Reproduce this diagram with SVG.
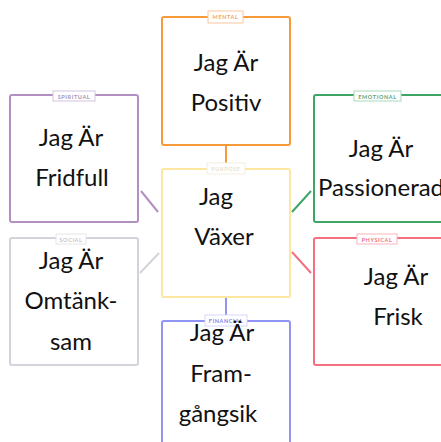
<svg xmlns="http://www.w3.org/2000/svg" width="441" height="442" viewBox="0 0 441 442">
<style>
.box{fill:#fff;stroke-width:2}
.tag{fill:#fff;stroke-width:1}
.lbl{font-family:"Lato","Open Sans",sans-serif;font-size:5.5px;letter-spacing:0.6px;text-anchor:middle;font-weight:bold}
.t{font-family:"Lato","Open Sans",sans-serif;font-size:24px;fill:#111;text-anchor:middle}
.c{stroke-width:2;fill:none}
</style>
<rect width="441" height="442" fill="#fff"/>
<g id="connectors">
<line class="c" x1="226" y1="145" x2="226" y2="169" stroke="#f79a3a"/>
<line class="c" x1="226" y1="297" x2="226" y2="321" stroke="#8f94f5"/>
<line class="c" x1="141" y1="191" x2="158" y2="212" stroke="#b390c2"/>
<line class="c" x1="292" y1="212" x2="311" y2="191" stroke="#3fa567"/>
<line class="c" x1="140" y1="273" x2="159" y2="253" stroke="#d4d2da"/>
<line class="c" x1="292" y1="252" x2="311" y2="273" stroke="#f4707f"/>
</g>
<g id="mental">
<rect class="box" x="162" y="17" width="128" height="128" rx="2" stroke="#f79a3a"/>
<rect class="tag" x="208" y="11" width="35" height="12" stroke="#fbc79a"/>
<text class="lbl" x="225.5" y="19" fill="#f5a36a">MENTAL</text>
<text class="t" x="226" y="71">Jag Är</text>
<text class="t" x="226" y="111">Positiv</text>
</g>
<g id="spiritual">
<rect class="box" x="10" y="95" width="128" height="127" rx="2" stroke="#b390c2"/>
<rect class="tag" x="53" y="91" width="42" height="10" stroke="#d5c3de"/>
<text class="lbl" x="74" y="98.5" fill="#a792b2">SPIRITUAL</text>
<text class="t" x="71" y="146">Jag Är</text>
<text class="t" x="72" y="186">Fridfull</text>
</g>
<g id="emotional">
<rect class="box" x="314" y="95" width="140" height="127" rx="2" stroke="#3fa567"/>
<rect class="tag" x="354" y="91" width="47" height="10" stroke="#a9d9bb"/>
<text class="lbl" x="377.5" y="98.5" fill="#5aa37a">EMOTIONAL</text>
<text class="t" x="381" y="157">Jag Är</text>
<text class="t" x="381" y="196">Passionerad</text>
</g>
<g id="social">
<rect class="box" x="10" y="238" width="128" height="127" rx="2" stroke="#d4d2da"/>
<rect class="tag" x="56" y="234" width="30" height="10" stroke="#e6e5ea"/>
<text class="lbl" x="71" y="241.5" fill="#c4c3cb">SOCIAL</text>
<text class="t" x="71" y="269">Jag Är</text>
<text class="t" x="71" y="309">Omtänk-</text>
<text class="t" x="71" y="350">sam</text>
</g>
<g id="physical">
<rect class="box" x="314" y="238" width="140" height="127" rx="2" stroke="#f4707f"/>
<rect class="tag" x="357" y="234" width="40" height="10" stroke="#f8b5be"/>
<text class="lbl" x="377" y="241.5" fill="#f0707f">PHYSICAL</text>
<text class="t" x="396" y="285">Jag Är</text>
<text class="t" x="398" y="325">Frisk</text>
</g>
<g id="purpose">
<rect class="box" x="162" y="169" width="128" height="128" rx="2" stroke="#fde7a0"/>
<rect class="tag" x="207" y="163" width="38" height="11" stroke="#f3eee0"/>
<text class="lbl" x="226" y="171" fill="#e8e2d2">PURPOSE</text>
<text class="t" x="216" y="205">Jag</text>
<text class="t" x="224" y="245">Växer</text>
</g>
<g id="financial">
<rect class="box" x="162" y="321" width="128" height="140" rx="2" stroke="#8f94f5"/>
<rect class="tag" x="205" y="315" width="42" height="11" stroke="#d5d7fb"/>
<text class="lbl" x="226" y="323" fill="#7e84e8">FINANCIAL</text>
<text class="t" x="222" y="341">Jag Är</text>
<text class="t" x="221" y="382">Fram-</text>
<text class="t" x="218" y="422">gångsik</text>
</g>
</svg>
